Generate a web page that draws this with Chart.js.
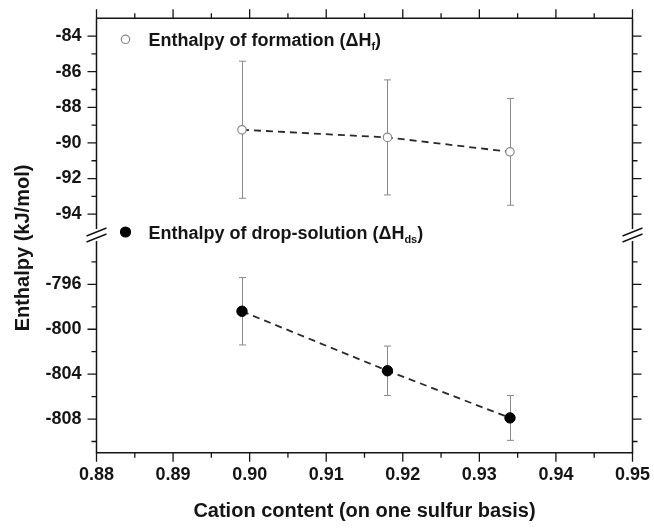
<!DOCTYPE html>
<html><head><meta charset="utf-8">
<script src="https://cdn.jsdelivr.net/npm/chart.js@4/dist/chart.umd.min.js"></script>
<style>html,body{margin:0;padding:0;background:#fff}#wrap{width:654px;height:529px}</style>
</head><body><div id="wrap"><canvas id="c" width="654" height="529"></canvas></div>
<script>
// ---- data ----
const cationContent = [0.899, 0.918, 0.934];
const formationEnthalpy = [-89.26, -89.69, -90.50];
const formationError = [3.85, 3.23, 3.00];
const dropSolutionEnthalpy = [-798.4, -803.7, -807.9];
const dropSolutionError = [3.0, 2.2, 2.0];

const xTicks = [0.88, 0.89, 0.90, 0.91, 0.92, 0.93, 0.94, 0.95];
const xMinorTicks = [0.885, 0.895, 0.905, 0.915, 0.925, 0.935, 0.945];
const yTopTicks = [-94, -92, -90, -88, -86, -84];
const yTopMinorTicks = [-93, -91, -89, -87, -85];
const yBotTicks = [-808, -804, -800, -796];
const yBotMinorTicks = [-810, -806, -802, -798, -794];

const legendLabels = [
  {main: 'Enthalpy of formation (ΔH', sub: 'f', tail: ')'},
  {main: 'Enthalpy of drop-solution (ΔH', sub: 'ds', tail: ')'}
];
const xTitle = 'Cation content (on one sulfur basis)';
const yTitle = 'Enthalpy (kJ/mol)';

const FONT = '"Liberation Sans", Arial, sans-serif';
const INK = '#151515';

const points = (xs, ys) => xs.map((x, i) => ({x, y: ys[i]}));

const decorPlugin = {
  id: 'decor',
  beforeDatasetsDraw(chart) {
    const ctx = chart.ctx;
    const x = chart.scales.x;
    ctx.save();
    ctx.strokeStyle = '#8a8a8a';
    ctx.lineWidth = 1;
    const drawErr = (ys, errs, scale) => {
      cationContent.forEach((cx, i) => {
        const px = Math.round(x.getPixelForValue(cx)) + 0.5;
        const pTop = scale.getPixelForValue(ys[i] + errs[i]);
        const pBot = scale.getPixelForValue(ys[i] - errs[i]);
        ctx.beginPath();
        ctx.moveTo(px, pTop); ctx.lineTo(px, pBot);
        ctx.moveTo(px - 3.5, pTop); ctx.lineTo(px + 3.5, pTop);
        ctx.moveTo(px - 3.5, pBot); ctx.lineTo(px + 3.5, pBot);
        ctx.stroke();
      });
    };
    drawErr(formationEnthalpy, formationError, chart.scales.yTop);
    drawErr(dropSolutionEnthalpy, dropSolutionError, chart.scales.yBot);
    ctx.restore();
  },
  afterDraw(chart) {
    const ctx = chart.ctx;
    const a = chart.chartArea;
    const x = chart.scales.x, yT = chart.scales.yTop, yB = chart.scales.yBot;
    const boundary = yT.bottom;
    const g0 = boundary - 6.5, g1 = boundary + 5.5;
    ctx.save();
    ctx.strokeStyle = INK;
    ctx.lineWidth = 1.5;
    ctx.lineCap = 'butt';
    // frame
    ctx.beginPath();
    ctx.moveTo(a.left, a.top); ctx.lineTo(a.right, a.top);
    ctx.moveTo(a.left - 0.75, a.bottom); ctx.lineTo(a.right + 0.75, a.bottom);
    ctx.moveTo(a.left, a.top); ctx.lineTo(a.left, g0);
    ctx.moveTo(a.left, g1); ctx.lineTo(a.left, a.bottom);
    ctx.moveTo(a.right, a.top); ctx.lineTo(a.right, g0);
    ctx.moveTo(a.right, g1); ctx.lineTo(a.right, a.bottom);
    ctx.stroke();
    // break marks
    ctx.lineWidth = 1.4;
    [a.left, a.right].forEach(bx => {
      [boundary - 3.5, boundary + 2.5].forEach(by => {
        ctx.beginPath();
        ctx.moveTo(bx - 10, by + 4); ctx.lineTo(bx + 10, by - 4);
        ctx.stroke();
      });
    });
    // ticks
    ctx.lineWidth = 1.3;
    ctx.beginPath();
    const vt = (vals, len) => vals.forEach(v => {
      const px = x.getPixelForValue(v);
      ctx.moveTo(px, a.bottom); ctx.lineTo(px, a.bottom + len);
      ctx.moveTo(px, a.top); ctx.lineTo(px, a.top - len);
    });
    vt(xTicks, 9); vt(xMinorTicks, 5);
    const ht = (scale, vals, len) => vals.forEach(v => {
      const py = scale.getPixelForValue(v);
      ctx.moveTo(a.left, py); ctx.lineTo(a.left - len, py);
      ctx.moveTo(a.right, py); ctx.lineTo(a.right + len, py);
    });
    ht(yT, yTopTicks, 9); ht(yT, yTopMinorTicks, 5);
    ht(yB, yBotTicks, 9); ht(yB, yBotMinorTicks, 5);
    ctx.stroke();

    // legend
    const lx = a.left + 29;
    const items = [
      {y: a.top + 21, fill: '#ffffff', stroke: '#8a8a8a', r: 4.2},
      {y: boundary - 3.5, fill: '#000000', stroke: '#000000', r: 5}
    ];
    items.forEach((it, i) => {
      ctx.beginPath();
      ctx.arc(lx, it.y, it.r, 0, Math.PI * 2);
      ctx.fillStyle = it.fill; ctx.fill();
      ctx.lineWidth = 1.2; ctx.strokeStyle = it.stroke; ctx.stroke();
      const lab = legendLabels[i];
      ctx.fillStyle = INK;
      ctx.textBaseline = 'alphabetic';
      ctx.textAlign = 'left';
      let tx = lx + 23;
      const base = it.y + 6.5;
      ctx.font = 'bold 18px ' + FONT;
      ctx.fillText(lab.main, tx, base);
      tx += ctx.measureText(lab.main).width;
      ctx.font = 'bold 11px ' + FONT;
      ctx.fillText(lab.sub, tx, base + 4);
      tx += ctx.measureText(lab.sub).width;
      ctx.font = 'bold 18px ' + FONT;
      ctx.fillText(lab.tail, tx, base);
    });

    // y-axis title
    ctx.save();
    ctx.translate(23, 248);
    ctx.rotate(-Math.PI / 2);
    ctx.font = 'bold 20px ' + FONT;
    ctx.textAlign = 'center';
    ctx.textBaseline = 'middle';
    ctx.fillStyle = INK;
    ctx.fillText(yTitle, 0, 0);
    ctx.restore();
    ctx.restore();
  }
};

const tickFont = {family: FONT, size: 18, weight: 'bold'};
const noPad = s => { s.paddingLeft = 0; s.paddingRight = 0; s.paddingTop = 0; s.paddingBottom = 0; };

new Chart(document.getElementById('c'), {
  type: 'scatter',
  data: {
    datasets: [
      {
        label: 'formation',
        data: points(cationContent, formationEnthalpy),
        yAxisID: 'yTop',
        showLine: true,
        borderColor: '#2a2a2a',
        borderWidth: 1.8,
        borderDash: [7, 5],
        pointRadius: 4.2,
        pointBorderWidth: 1.2,
        pointBorderColor: '#8a8a8a',
        pointBackgroundColor: '#ffffff'
      },
      {
        label: 'drop-solution',
        data: points(cationContent, dropSolutionEnthalpy),
        yAxisID: 'yBot',
        showLine: true,
        borderColor: '#2a2a2a',
        borderWidth: 1.8,
        borderDash: [7, 5],
        pointRadius: 5.2,
        pointBorderWidth: 1,
        pointBorderColor: '#000',
        pointBackgroundColor: '#000'
      }
    ]
  },
  options: {
    responsive: false,
    animation: false,
    devicePixelRatio: 1,
    layout: {padding: {left: 0, right: 21.5, top: 18.3, bottom: 0}},
    plugins: {legend: {display: false}, tooltip: {enabled: false}},
    scales: {
      x: {
        type: 'linear', position: 'bottom', min: 0.88, max: 0.95,
        afterBuildTicks: s => { s.ticks = xTicks.map(v => ({value: v})); },
        afterFit: s => { s.height = 76.3; noPad(s); },
        ticks: {font: tickFont, color: INK, padding: 12, maxRotation: 0, autoSkip: false,
          callback: v => Number(v).toFixed(2)},
        grid: {display: false, drawTicks: false},
        border: {display: false},
        title: {display: true, text: xTitle, color: INK,
          font: {family: FONT, size: 20, weight: 'bold'}, padding: {top: 0, bottom: 6}}
      },
      yTop: {
        type: 'linear', position: 'left', stack: 'left', stackWeight: 1, weight: 2,
        min: -95.2, max: -83,
        afterBuildTicks: s => { s.ticks = yTopTicks.map(v => ({value: v})); },
        afterFit: s => { s.width = 96.5; noPad(s); },
        ticks: {font: tickFont, color: INK, padding: 15, callback: v => String(v)},
        grid: {display: false, drawTicks: false},
        border: {display: false}
      },
      yBot: {
        type: 'linear', position: 'left', stack: 'left', stackWeight: 1, weight: 1,
        min: -811, max: -791.65,
        afterBuildTicks: s => { s.ticks = yBotTicks.map(v => ({value: v})); },
        afterFit: s => { s.width = 96.5; noPad(s); },
        ticks: {font: tickFont, color: INK, padding: 15, callback: v => String(v)},
        grid: {display: false, drawTicks: false},
        border: {display: false}
      }
    }
  },
  plugins: [decorPlugin]
});
</script>
</body></html>
